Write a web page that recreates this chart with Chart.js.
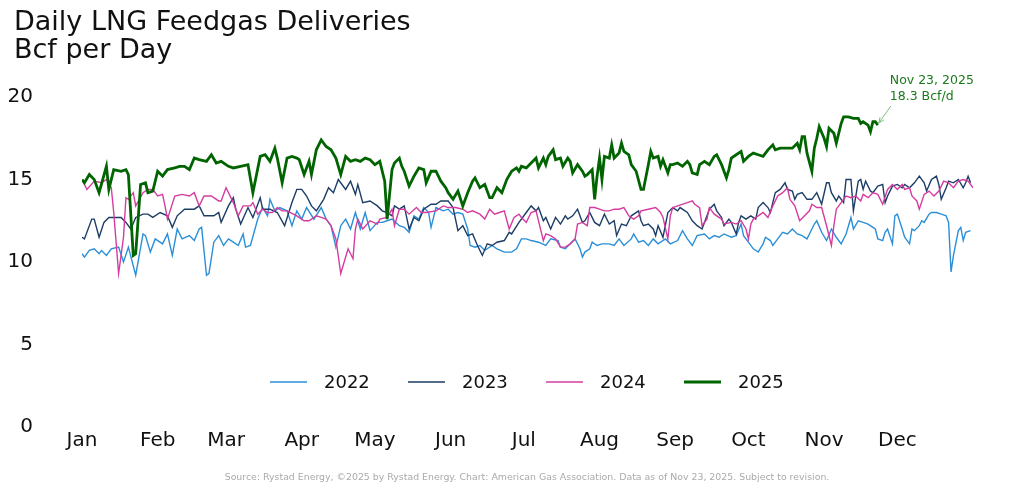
<!DOCTYPE html>
<html>
<head>
<meta charset="utf-8">
<script src="https://cdn.jsdelivr.net/npm/chart.js@4.4.1/dist/chart.umd.min.js"></script>
<style>
  html, body { margin: 0; padding: 0; background: #fff; }
  #wrap { width: 1024px; height: 491px; position: relative; }
</style>
</head>
<body>
<div id="wrap"><canvas id="lng-chart" width="1024" height="491"></canvas></div>
<script>
// daily feedgas, [day of year, Bcf/d]
const lng2022 = [[0,10.5],[1,10.3],[3,10.7],[5,10.8],[7,10.5],[8,10.7],[10,10.4],[12,10.8],[15,10.9],[17,10.0],[19,10.9],[22,9.2],[25,11.7],[26,11.6],[28,10.6],[30,11.4],[33,11.1],[35,11.7],[37,10.4],[39,12.0],[41,11.4],[44,11.6],[46,11.3],[48,12.0],[49,12.1],[51,9.2],[52,9.3],[54,11.2],[56,11.6],[58,11.0],[60,11.4],[62,11.2],[64,11.0],[66,11.7],[67,10.9],[69,11.0],[72,12.6],[74,13.3],[76,12.8],[77,13.8],[79,13.1],[81,13.3],[84,13.1],[86,12.2],[88,13.1],[90,12.6],[92,13.3],[95,12.6],[98,13.3],[100,12.6],[102,12.2],[104,10.9],[106,12.2],[108,12.6],[110,12.0],[112,13.0],[114,12.0],[116,13.0],[118,11.9],[121,12.4],[123,12.4],[125,12.5],[127,12.6],[130,12.2],[132,12.1],[134,11.8],[136,12.8],[138,12.6],[140,13.3],[142,13.0],[143,12.1],[145,13.3],[148,13.1],[150,13.2],[152,12.9],[154,13.0],[156,12.9],[158,12.0],[159,11.0],[161,10.9],[163,11.0],[165,10.7],[168,11.0],[170,10.8],[173,10.6],[176,10.6],[178,10.8],[180,11.4],[182,11.4],[184,11.3],[187,11.2],[190,11.0],[192,11.4],[195,11.3],[196,10.9],[198,10.8],[200,11.1],[202,11.4],[204,10.8],[205,10.3],[206,10.6],[208,10.8],[209,11.2],[211,11.0],[213,11.1],[216,11.1],[218,11.0],[220,11.4],[222,11.0],[225,11.4],[226,11.7],[228,11.2],[230,11.3],[232,11.0],[234,11.4],[236,11.1],[239,11.4],[241,11.1],[244,11.3],[246,11.9],[248,11.4],[250,11.0],[252,11.6],[255,11.7],[257,11.4],[259,11.6],[261,11.5],[263,11.7],[266,11.5],[268,11.6],[270,12.3],[271,11.6],[273,11.2],[275,10.8],[277,10.6],[279,11.1],[280,11.5],[282,11.3],[283,11.0],[285,11.4],[287,11.8],[289,11.7],[291,12.0],[293,11.7],[295,11.6],[297,11.4],[298,11.7],[300,12.3],[301,12.5],[303,11.8],[305,11.3],[307,12.0],[309,11.5],[311,11.1],[313,11.7],[315,12.7],[316,12.0],[318,12.5],[320,12.4],[322,12.3],[324,12.1],[325,12.0],[326,11.4],[328,11.3],[329,11.8],[330,12.0],[332,11.1],[333,12.8],[334,12.9],[336,12.0],[337,11.5],[339,11.1],[340,12.0],[341,11.9],[343,12.2],[344,12.5],[345,12.4],[347,12.9],[348,13.0],[350,13.0],[352,12.9],[354,12.8],[355,12.4],[356,9.4],[357,10.4],[359,11.9],[360,12.1],[361,11.3],[362,11.8],[364,11.9]];

const lng2023 = [[0,11.5],[1,11.4],[4,12.6],[5,12.6],[7,11.5],[9,12.4],[11,12.7],[14,12.7],[16,12.7],[18,12.4],[20,12.0],[22,12.7],[25,12.9],[27,12.9],[29,12.7],[32,13.0],[35,12.8],[37,12.1],[39,12.8],[42,13.2],[46,13.2],[48,13.4],[50,12.8],[54,12.8],[56,13.0],[57,12.4],[60,13.4],[62,13.9],[63,13.2],[65,12.3],[68,13.3],[70,12.7],[73,13.9],[74,13.2],[77,13.2],[80,13.0],[83,12.2],[86,13.6],[88,14.4],[90,14.4],[92,14.0],[94,13.4],[96,13.1],[99,13.8],[101,14.5],[103,14.2],[105,15.0],[108,14.4],[110,14.9],[112,14.1],[113,14.7],[115,13.6],[118,13.7],[121,13.4],[123,13.1],[125,13.0],[127,12.8],[128,13.4],[130,13.2],[132,13.4],[134,12.0],[136,12.7],[138,12.5],[140,13.2],[143,13.5],[145,13.5],[147,13.7],[150,13.7],[152,13.3],[154,11.9],[156,12.2],[158,11.6],[160,11.7],[162,11.0],[164,10.4],[166,11.1],[168,11.0],[170,11.2],[173,11.3],[175,11.8],[176,11.7],[179,12.4],[182,13.0],[184,13.4],[186,13.1],[187,13.3],[189,12.5],[190,12.7],[192,12.0],[194,12.7],[196,12.3],[198,12.8],[199,12.6],[201,12.8],[203,13.2],[205,12.4],[206,12.5],[208,13.0],[210,12.4],[212,12.2],[214,12.9],[216,12.3],[218,12.5],[219,11.6],[221,12.3],[223,12.2],[225,12.8],[228,13.1],[229,12.5],[230,12.2],[232,12.3],[234,12.0],[235,11.6],[236,12.2],[238,11.5],[240,13.0],[242,13.3],[244,13.1],[245,13.3],[248,13.0],[250,12.5],[252,12.2],[254,12.0],[255,12.4],[257,13.2],[259,13.5],[260,13.1],[262,12.7],[263,12.2],[265,12.6],[266,12.4],[268,11.7],[269,12.4],[270,12.8],[272,12.6],[274,12.8],[276,12.6],[277,13.3],[279,13.6],[281,13.3],[282,13.0],[284,14.2],[286,14.4],[288,14.8],[289,14.4],[291,14.3],[292,13.8],[293,14.1],[295,14.2],[297,13.8],[299,13.8],[301,14.2],[303,13.5],[305,14.8],[306,14.8],[307,14.2],[309,13.7],[310,14.0],[312,13.6],[313,15.0],[315,15.0],[316,13.1],[318,14.9],[319,15.0],[320,14.4],[321,14.9],[323,14.3],[324,14.2],[326,14.6],[328,14.7],[329,13.6],[330,14.0],[332,14.6],[334,14.7],[336,14.5],[337,14.7],[339,14.5],[341,14.8],[343,15.2],[345,14.8],[346,14.3],[348,15.0],[350,15.2],[351,14.7],[352,13.8],[354,14.5],[355,14.9],[357,14.8],[359,15.0],[361,14.5],[362,14.8],[363,15.2],[364,14.8]];

const lng2024 = [[0,15.0],[2,14.4],[5,14.9],[8,14.8],[10,15.0],[12,14.5],[13,13.0],[15,9.3],[17,11.5],[18,13.9],[19,13.8],[21,14.2],[22,13.4],[25,14.2],[27,14.4],[29,14.4],[31,14.0],[33,14.1],[34,13.4],[35,12.6],[38,14.0],[41,14.1],[44,14.0],[46,14.2],[48,13.4],[50,14.0],[53,14.0],[56,13.7],[57,13.7],[59,14.5],[62,13.6],[64,12.8],[66,13.4],[69,13.4],[70,13.6],[72,12.9],[74,13.2],[76,13.0],[78,13.0],[80,13.3],[82,13.1],[84,13.1],[88,12.8],[91,12.5],[93,12.5],[96,12.8],[98,12.7],[100,12.6],[102,12.2],[104,11.4],[106,9.3],[107,9.8],[109,10.8],[111,10.2],[112,12.0],[113,12.6],[115,12.0],[118,12.5],[121,12.3],[122,12.6],[125,12.7],[127,13.2],[128,12.2],[130,13.2],[132,13.2],[134,12.9],[137,13.3],[139,13.0],[141,13.0],[145,13.1],[148,13.4],[150,13.3],[153,13.3],[156,13.2],[158,13.0],[160,13.1],[163,12.9],[165,12.6],[167,13.2],[169,12.9],[171,13.0],[173,13.1],[175,12.0],[177,12.7],[179,12.9],[180,12.7],[182,12.4],[184,13.0],[186,13.1],[189,11.3],[190,11.7],[192,11.6],[194,11.4],[196,10.9],[198,10.9],[200,11.1],[202,11.4],[203,12.3],[205,12.4],[207,12.2],[208,13.3],[210,13.3],[212,13.2],[214,13.1],[216,13.1],[218,13.2],[220,13.2],[222,13.3],[224,12.8],[226,12.6],[228,12.8],[229,13.1],[232,13.2],[235,13.3],[237,13.0],[238,12.7],[240,11.4],[241,12.8],[242,13.3],[244,13.4],[248,13.6],[250,13.7],[251,13.5],[253,13.3],[254,12.2],[256,12.6],[257,13.3],[259,12.9],[262,12.6],[263,12.3],[266,12.4],[268,12.3],[270,12.5],[272,12.0],[273,11.4],[274,12.3],[275,12.6],[277,12.8],[279,13.0],[281,12.7],[283,13.4],[285,14.0],[287,14.2],[289,14.5],[290,13.8],[292,13.4],[294,12.5],[296,12.8],[298,13.1],[299,13.5],[301,13.3],[303,13.3],[305,12.2],[307,11.0],[308,12.2],[309,13.2],[311,13.6],[313,14.0],[315,13.9],[317,14.0],[319,13.7],[320,14.1],[322,13.9],[324,14.2],[326,14.1],[328,13.5],[330,14.4],[332,14.7],[334,14.4],[336,14.7],[337,14.4],[339,14.5],[340,14.0],[342,13.7],[343,13.2],[345,14.1],[347,14.3],[349,14.0],[351,14.3],[353,14.9],[355,14.8],[357,14.5],[359,14.9],[361,15.0],[363,14.9],[365,14.5]];

const lng2025 = [[0,15.0],[1,14.8],[3,15.3],[5,15.0],[7,14.2],[10,15.8],[11,14.4],[13,15.6],[16,15.5],[18,15.6],[19,15.3],[21,10.4],[22,10.5],[24,14.7],[26,14.8],[27,14.2],[29,14.3],[31,15.5],[33,15.2],[35,15.6],[38,15.7],[40,15.8],[42,15.8],[44,15.6],[46,16.3],[48,16.2],[51,16.1],[53,16.5],[55,16.0],[57,16.1],[60,15.8],[62,15.7],[65,15.8],[68,15.9],[70,14.2],[73,16.4],[75,16.5],[77,16.1],[79,16.9],[80,16.3],[82,14.8],[84,16.3],[86,16.4],[88,16.3],[89,16.2],[91,15.3],[93,16.1],[94,15.3],[96,16.8],[98,17.4],[100,17.0],[102,16.8],[104,16.3],[106,15.3],[108,16.4],[110,16.1],[112,16.2],[114,16.1],[116,16.3],[118,16.2],[120,15.9],[122,16.1],[124,14.9],[125,12.6],[127,15.6],[128,16.0],[130,16.3],[131,15.8],[132,15.5],[134,14.6],[136,15.2],[138,15.7],[140,15.6],[141,14.8],[143,15.5],[145,15.5],[147,14.9],[149,14.5],[150,14.2],[152,13.8],[154,14.3],[156,13.4],[158,14.2],[160,14.9],[161,15.1],[163,14.5],[165,14.7],[167,13.9],[168,13.9],[170,14.5],[172,14.2],[174,15.0],[176,15.5],[178,15.7],[179,15.5],[180,15.8],[182,15.7],[184,16.0],[186,16.3],[187,15.7],[189,16.3],[190,15.9],[191,16.4],[193,16.8],[194,16.2],[196,16.3],[197,15.8],[199,16.3],[200,16.1],[201,15.4],[203,15.9],[205,15.5],[206,15.2],[207,15.3],[209,15.6],[210,13.8],[211,15.2],[212,16.3],[213,15.0],[214,16.4],[216,16.3],[217,17.1],[218,16.3],[220,16.6],[221,17.2],[222,16.7],[224,16.5],[225,15.9],[227,15.5],[229,14.4],[230,14.4],[232,15.9],[233,16.7],[234,16.3],[236,16.4],[237,15.8],[238,16.2],[240,15.4],[241,15.9],[242,15.9],[244,16.0],[246,15.8],[248,16.1],[249,15.9],[250,15.4],[252,15.3],[253,15.9],[255,16.1],[257,15.9],[259,16.4],[260,16.5],[262,15.9],[264,15.1],[265,15.6],[266,16.3],[268,16.5],[270,16.7],[271,16.1],[273,16.4],[275,16.6],[277,16.5],[279,16.4],[281,16.8],[283,17.1],[284,16.8],[286,16.9],[288,16.9],[291,16.9],[293,17.2],[294,16.8],[295,17.6],[296,17.6],[297,16.6],[299,15.5],[300,16.9],[301,17.5],[302,18.2],[304,17.5],[305,17.0],[306,18.1],[308,17.8],[309,17.2],[311,18.4],[312,18.8],[314,18.8],[316,18.7],[318,18.7],[319,18.4],[320,18.5],[322,18.3],[323,17.9],[324,18.5],[325,18.5],[326,18.3]];

const years = ['2022', '2023', '2024', '2025'];
const monthStarts = [0, 31, 59, 90, 120, 151, 181, 212, 243, 273, 304, 334];
const monthLabels = ['Jan', 'Feb', 'Mar', 'Apr', 'May', 'Jun', 'Jul', 'Aug', 'Sep', 'Oct', 'Nov', 'Dec'];
const yTicks = [0, 5, 10, 15, 20];
const lastDateLabel = 'Nov 23, 2025';

const FONT = "'DejaVu Sans', 'Liberation Sans', sans-serif";
const seriesData = [lng2022, lng2023, lng2024, lng2025];
const colors = ['#2b8fd8', '#1c3d66', '#d43c9f', '#006400'];
const widths = [1.4, 1.4, 1.4, 2.8];

const datasets = years.map((yr, i) => ({
  label: yr,
  data: seriesData[i].map(p => ({ x: p[0], y: p[1] })),
  borderColor: colors[i],
  backgroundColor: colors[i],
  borderWidth: widths[i],
  pointRadius: 0,
  tension: 0,
  fill: false,
  order: 4 - i
}));

// title, legend, annotation and footer drawn on the canvas
const textPlugin = {
  id: 'textPlugin',
  afterDraw(chart) {
    const c = chart.ctx;
    c.save();
    c.fillStyle = '#111';
    c.font = '27px ' + FONT;
    c.textAlign = 'left';
    c.textBaseline = 'alphabetic';
    c.fillText('Daily LNG Feedgas Deliveries', 14, 30);
    c.fillText('Bcf per Day', 14, 58);

    // legend
    c.font = '18px ' + FONT;
    c.textBaseline = 'middle';
    chart.data.datasets.forEach((ds, i) => {
      const x0 = 270 + i * 138;
      c.strokeStyle = ds.borderColor;
      c.lineWidth = ds.borderWidth;
      c.beginPath();
      c.moveTo(x0, 382);
      c.lineTo(x0 + 37, 382);
      c.stroke();
      c.fillStyle = '#111';
      c.fillText(ds.label, x0 + 54, 383);
    });

    // last point annotation
    const last = lng2025[lng2025.length - 1];
    const px = chart.scales.x.getPixelForValue(last[0]);
    const py = chart.scales.y.getPixelForValue(last[1]);
    c.fillStyle = '#1a7a1a';
    c.font = '12.5px ' + FONT;
    c.textBaseline = 'middle';
    c.fillText(lastDateLabel, px + 12, py - 44);
    c.fillText(last[1].toFixed(1) + ' Bcf/d', px + 12, py - 28);
    const ax = px + 13, ay = py - 19;
    const bx = px + 1, by = py - 2;
    c.strokeStyle = '#7cbf7c';
    c.lineWidth = 1;
    c.beginPath();
    c.moveTo(ax, ay);
    c.lineTo(bx, by);
    c.stroke();
    const ang = Math.atan2(by - ay, bx - ax);
    c.beginPath();
    c.moveTo(bx, by);
    c.lineTo(bx - 6 * Math.cos(ang - 0.4), by - 6 * Math.sin(ang - 0.4));
    c.moveTo(bx, by);
    c.lineTo(bx - 6 * Math.cos(ang + 0.4), by - 6 * Math.sin(ang + 0.4));
    c.stroke();

    // footer
    c.fillStyle = '#aaaaaa';
    c.font = '9.4px ' + FONT;
    c.textAlign = 'center';
    c.fillText('Source: Rystad Energy, \u00a92025 by Rystad Energy. Chart: American Gas Association. Data as of Nov 23, 2025. Subject to revision.', 527, 478);
    c.restore();
  }
};

new Chart(document.getElementById('lng-chart'), {
  type: 'line',
  data: { datasets: datasets },
  options: {
    responsive: false,
    animation: false,
    events: [],
    layout: { padding: { top: 97, right: 51, bottom: 40, left: 0 } },
    plugins: {
      legend: { display: false },
      tooltip: { enabled: false }
    },
    scales: {
      x: {
        type: 'linear',
        min: 0,
        max: 365,
        grid: { display: false, drawTicks: false },
        border: { display: false },
        afterBuildTicks: s => { s.ticks = monthStarts.map(v => ({ value: v })); },
        afterFit: s => { s.height = 24; },
        ticks: {
          autoSkip: false,
          maxRotation: 0,
          padding: 2,
          color: '#111',
          font: { family: FONT, size: 20 },
          callback: (v, i) => monthLabels[i]
        }
      },
      y: {
        min: 0,
        max: 20,
        grid: { display: false, drawTicks: false },
        border: { display: false },
        afterBuildTicks: s => { s.ticks = yTicks.map(v => ({ value: v })); },
        afterFit: s => { s.width = 82; },
        ticks: {
          padding: 49,
          color: '#111',
          font: { family: FONT, size: 20 }
        }
      }
    }
  },
  plugins: [textPlugin]
});
</script>
</body>
</html>
